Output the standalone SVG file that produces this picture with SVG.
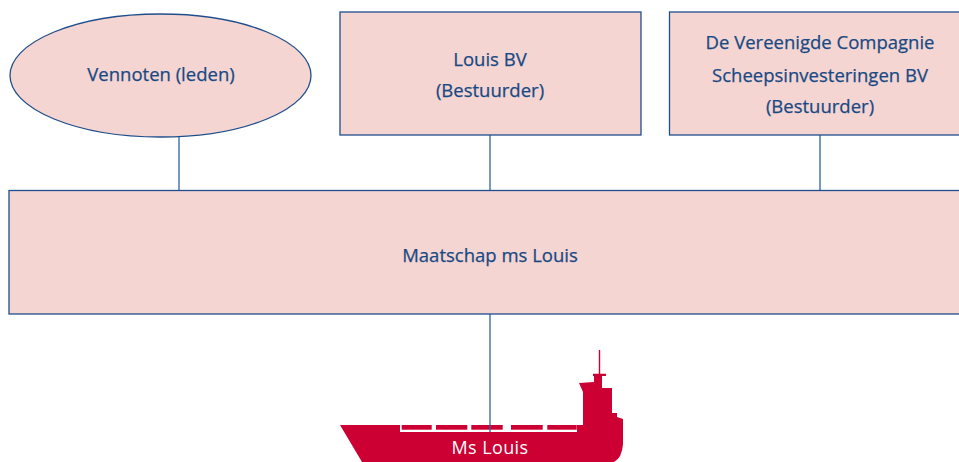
<svg xmlns="http://www.w3.org/2000/svg" width="959" height="462" viewBox="0 0 959 462">
<style>
.box{fill:#f5d5d1;stroke:#1f4e8c;stroke-width:1.3}
.lbl{font-family:"Open Sans","Noto Sans",sans-serif;font-size:18.5px;fill:#184984;text-anchor:middle;stroke:#184984;stroke-width:0.25}
.con{stroke:#2e63a0;stroke-width:1.3;fill:none}
.ship{fill:#cc0033}
.shiplbl{font-family:"Open Sans","Noto Sans",sans-serif;font-size:18px;fill:#ffffff;text-anchor:middle;letter-spacing:0.4px}
</style>
<rect width="959" height="462" fill="#ffffff"/>
<g id="ship">
<path class="ship" d="M340,425 L400,425 L400,432 L577,432 L577,425 L583,425 L583,392 L579,383 L594,382 L594,376 L593,376 L593,373.7 L598.8,373.7 L598.8,350 L600.2,350 L600.2,373.7 L606,373.7 L606,376 L602,376 L602,388 L612,388 L612,413 L617,413 L617,417 L623,419 L623,444 Q622,458 614,462 L362,462 Z"/>
<g class="ship">
<rect x="401.7" y="425" width="30" height="4.7"/>
<rect x="436" y="425" width="31.3" height="4.7"/>
<rect x="471.3" y="425" width="31.4" height="4.7"/>
<rect x="511" y="425" width="31.7" height="4.7"/>
<rect x="547.3" y="425" width="29.4" height="4.7"/>
</g>
<text class="shiplbl" x="490" y="453.5">Ms Louis</text>
</g>
<g id="connectors">
<line class="con" x1="179" y1="136" x2="179" y2="190.5"/>
<line class="con" x1="490" y1="135" x2="490" y2="190.5"/>
<line class="con" x1="820" y1="135" x2="820" y2="190.5"/>
<line class="con" x1="490" y1="314" x2="490" y2="432"/>
</g>
<g id="vennoten">
<ellipse class="box" cx="160.5" cy="75.5" rx="150.5" ry="61.5"/>
<text class="lbl" x="161" y="81">Vennoten (leden)</text>
</g>
<g id="louisbv">
<rect class="box" x="340" y="12" width="301" height="123"/>
<text class="lbl" x="490" y="66">Louis BV</text>
<text class="lbl" x="490" y="97">(Bestuurder)</text>
</g>
<g id="vereenigde">
<rect class="box" x="669.5" y="12" width="300" height="123"/>
<text class="lbl" x="820" y="49">De Vereenigde Compagnie</text>
<text class="lbl" x="820" y="81.5">Scheepsinvesteringen BV</text>
<text class="lbl" x="820" y="113">(Bestuurder)</text>
</g>
<g id="maatschap">
<rect class="box" x="9" y="190.5" width="960" height="123.5"/>
<text class="lbl" x="490" y="262">Maatschap ms Louis</text>
</g>
</svg>
